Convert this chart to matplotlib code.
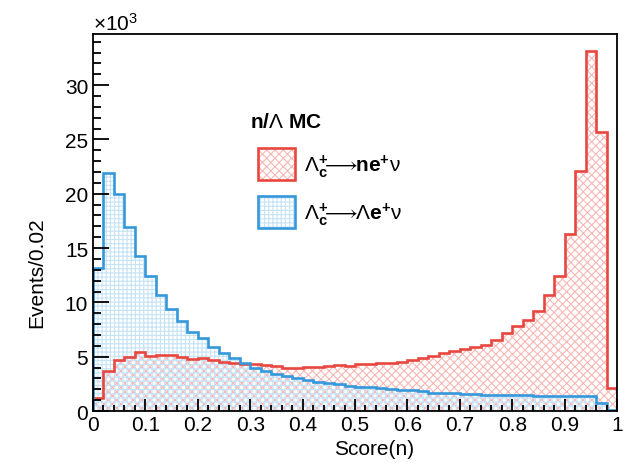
import numpy as np
import matplotlib.pyplot as plt
from matplotlib.patches import Patch
from matplotlib.ticker import MultipleLocator, FormatStrFormatter

plt.rcParams['font.family'] = ['Liberation Sans', 'DejaVu Sans']
plt.rcParams['mathtext.fontset'] = 'custom'
plt.rcParams['mathtext.rm'] = 'Liberation Sans'
plt.rcParams['mathtext.it'] = 'Liberation Sans:italic'
plt.rcParams['mathtext.bf'] = 'Liberation Sans:bold'
plt.rcParams['hatch.linewidth'] = 0.8

# score bins, 50 bins of 0.02
bin_edges = np.linspace(0, 1, 51)

# events per bin, in units of 10^3
ne_nu = [1.2, 3.7, 4.7, 5.0, 5.4, 5.1, 5.2, 5.2, 5.0, 4.8,
         4.85, 4.7, 4.55, 4.4, 4.3, 4.3, 4.2, 4.1, 4.0, 4.0,
         4.05, 4.05, 4.15, 4.2, 4.1, 4.3, 4.3, 4.4, 4.4, 4.5,
         4.7, 4.9, 5.1, 5.3, 5.5, 5.7, 5.9, 6.1, 6.5, 7.2,
         7.8, 8.4, 9.2, 10.7, 12.45, 16.3, 22.1, 33.1, 25.7, 2.1]
lam_e_nu = [13.2, 21.9, 20.0, 16.9, 14.3, 12.4, 10.7, 9.4, 8.3, 7.3,
            6.7, 5.9, 5.3, 4.9, 4.4, 4.0, 3.7, 3.4, 3.25, 3.0,
            2.85, 2.7, 2.55, 2.5, 2.3, 2.2, 2.2, 2.1, 2.0, 1.9,
            1.9, 1.8, 1.7, 1.7, 1.65, 1.6, 1.55, 1.5, 1.5, 1.5,
            1.45, 1.45, 1.4, 1.4, 1.4, 1.35, 1.35, 1.35, 0.7, 0.05]

arrow = r'\!\!\longrightarrow\!\!'
labels = [r'$\mathrm{\Lambda}_{\mathbf{c}}^{\mathbf{+}}' + arrow + r'\mathbf{ne}^{\mathbf{+}}\mathrm{\nu}$',
          r'$\mathrm{\Lambda}_{\mathbf{c}}^{\mathbf{+}}' + arrow + r'\mathrm{\Lambda}\mathbf{e}^{\mathbf{+}}\mathrm{\nu}$']

red = '#e8473f'
red_hatch = '#f7b7b4'
blue = '#3598db'
blue_hatch = '#c6e3f6'
red_pat = 'xxxx'
blue_pat = '++++'

fig = plt.figure(figsize=(6.25, 4.64), dpi=100)
ax = fig.add_axes([0.1488, 0.112, 0.8384, 0.8125])

# hatched fills, then outlines
ax.stairs(ne_nu, bin_edges, fill=True, facecolor='none',
          edgecolor=red_hatch, hatch=red_pat, linewidth=0)
ax.stairs(lam_e_nu, bin_edges, fill=True, facecolor='none',
          edgecolor=blue_hatch, hatch=blue_pat, linewidth=0)
ax.stairs(ne_nu, bin_edges, color=red, linewidth=1.9)
ax.stairs(lam_e_nu, bin_edges, color=blue, linewidth=1.9)

ax.set_xlim(0, 1)
ax.set_ylim(0, 34.7)

ax.xaxis.set_major_locator(MultipleLocator(0.1))
ax.xaxis.set_minor_locator(MultipleLocator(0.02))
ax.xaxis.set_major_formatter(FormatStrFormatter('%g'))
ax.yaxis.set_major_locator(MultipleLocator(5))
ax.yaxis.set_minor_locator(MultipleLocator(1))

ax.tick_params(axis='both', which='both', direction='in', top=False, right=False,
               labelsize=15, width=1.3)
ax.tick_params(axis='y', which='major', length=11.5)
ax.tick_params(axis='y', which='minor', length=5.8)
ax.tick_params(axis='x', which='major', length=8.6, pad=3)
ax.tick_params(axis='x', which='minor', length=4.3)
for s in ax.spines.values():
    s.set_linewidth(1.3)

ax.set_xlabel('Score(n)', fontsize=15, labelpad=2)
ax.xaxis.set_label_coords(0.536, -0.075)
ax.set_ylabel('Events/0.02', fontsize=15)
ax.yaxis.set_label_coords(-0.09, 0.37)

ax.text(0.0, 1.0, r'$\times$10$^{3}$', transform=ax.transAxes, fontsize=15,
        ha='left', va='bottom')

# legend title as its own text, entries below it
ax.text(0.30, 0.769, r'$\mathbf{n/}\mathrm{\Lambda}\ \mathbf{MC}$', transform=ax.transAxes,
        fontsize=15, ha='left', va='center')

# legend boxes: hatched fill under a coloured outline
handles = [(Patch(facecolor='none', edgecolor=red_hatch, hatch=red_pat, linewidth=0),
            Patch(facecolor='none', edgecolor=red, linewidth=1.9)),
           (Patch(facecolor='none', edgecolor=blue_hatch, hatch=blue_pat, linewidth=0),
            Patch(facecolor='none', edgecolor=blue, linewidth=1.9))]
leg = ax.legend(handles, labels, fontsize=15, frameon=False, loc='upper left',
                bbox_to_anchor=(0.315, 0.697), borderaxespad=0, borderpad=0,
                handlelength=1.75, handleheight=2.0, labelspacing=0.75,
                handletextpad=0.45)

fig.savefig('out.png', dpi=100)
